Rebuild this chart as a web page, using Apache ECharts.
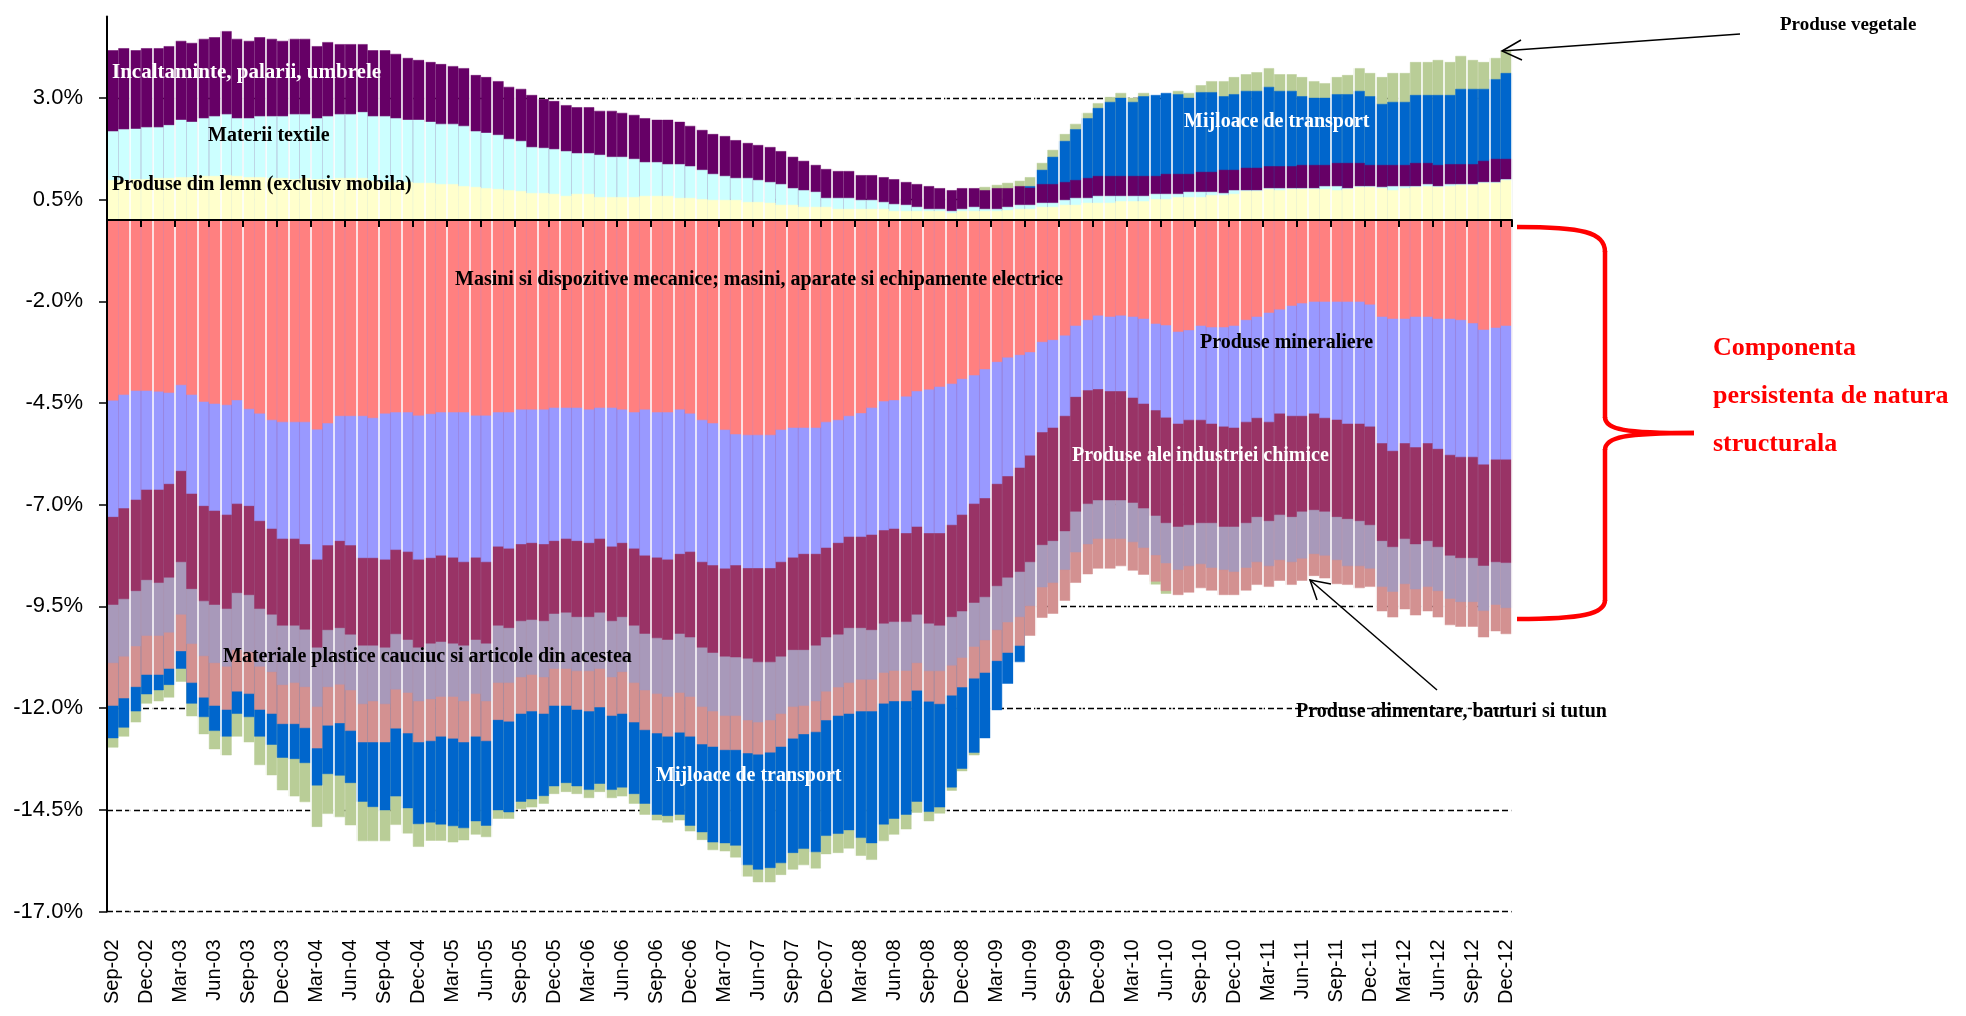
<!DOCTYPE html>
<html>
<head>
<meta charset="utf-8">
<title>Componenta persistenta de natura structurala</title>
<script src="https://cdn.jsdelivr.net/npm/echarts@6/dist/echarts.min.js"></script>
<style>
    html, body { margin: 0; padding: 0; background: #fff; }
    #chart { width: 1966px; height: 1016px; }
</style>
</head>
<body>
<div id="chart"></div>
<script>
// luni, Sep-02 .. Dec-12
var luni = [
    'Sep-02','Oct-02','Nov-02','Dec-02',
    'Jan-03','Feb-03','Mar-03','Apr-03','May-03','Jun-03','Jul-03','Aug-03','Sep-03','Oct-03','Nov-03','Dec-03',
    'Jan-04','Feb-04','Mar-04','Apr-04','May-04','Jun-04','Jul-04','Aug-04','Sep-04','Oct-04','Nov-04','Dec-04',
    'Jan-05','Feb-05','Mar-05','Apr-05','May-05','Jun-05','Jul-05','Aug-05','Sep-05','Oct-05','Nov-05','Dec-05',
    'Jan-06','Feb-06','Mar-06','Apr-06','May-06','Jun-06','Jul-06','Aug-06','Sep-06','Oct-06','Nov-06','Dec-06',
    'Jan-07','Feb-07','Mar-07','Apr-07','May-07','Jun-07','Jul-07','Aug-07','Sep-07','Oct-07','Nov-07','Dec-07',
    'Jan-08','Feb-08','Mar-08','Apr-08','May-08','Jun-08','Jul-08','Aug-08','Sep-08','Oct-08','Nov-08','Dec-08',
    'Jan-09','Feb-09','Mar-09','Apr-09','May-09','Jun-09','Jul-09','Aug-09','Sep-09','Oct-09','Nov-09','Dec-09',
    'Jan-10','Feb-10','Mar-10','Apr-10','May-10','Jun-10','Jul-10','Aug-10','Sep-10','Oct-10','Nov-10','Dec-10',
    'Jan-11','Feb-11','Mar-11','Apr-11','May-11','Jun-11','Jul-11','Aug-11','Sep-11','Oct-11','Nov-11','Dec-11',
    'Jan-12','Feb-12','Mar-12','Apr-12','May-12','Jun-12','Jul-12','Aug-12','Sep-12','Oct-12','Nov-12','Dec-12'
];

// nivelul cumulat (marginea exterioara) al fiecarui strat, in %, citit de pe grafic
// partea pozitiva
var lemn = [
    0.98,0.98,1.00,1.00,1.03,1.03,1.05,1.05,1.08,1.08,
    1.10,1.08,1.05,1.05,1.03,1.03,1.00,1.03,1.00,1.00,
    1.03,1.03,1.03,0.96,0.93,0.93,0.93,0.91,0.91,0.88,
    0.88,0.83,0.81,0.78,0.76,0.73,0.71,0.66,0.66,0.64,
    0.59,0.64,0.64,0.56,0.56,0.56,0.56,0.59,0.59,0.59,
    0.54,0.54,0.51,0.49,0.49,0.49,0.44,0.44,0.42,0.37,
    0.37,0.32,0.32,0.32,0.27,0.27,0.27,0.27,0.27,0.22,
    0.22,0.22,0.22,0.22,0.17,0.22,0.22,0.22,0.22,0.24,
    0.27,0.27,0.32,0.32,0.37,0.37,0.42,0.42,0.42,0.46,
    0.46,0.46,0.51,0.51,0.56,0.56,0.56,0.61,0.61,0.64,
    0.71,0.71,0.76,0.73,0.76,0.76,0.76,0.76,0.73,0.76,
    0.81,0.81,0.78,0.73,0.78,0.81,0.83,0.81,0.83,0.86,
    0.86,0.91,0.91,0.98
];
var textile = [
    2.18,2.23,2.24,2.28,2.28,2.33,2.46,2.41,2.50,2.55,
    2.60,2.50,2.50,2.55,2.55,2.55,2.60,2.60,2.50,2.55,
    2.60,2.60,2.65,2.55,2.55,2.50,2.46,2.46,2.41,2.36,
    2.36,2.31,2.18,2.14,2.09,1.99,1.94,1.79,1.77,1.74,
    1.69,1.64,1.64,1.60,1.55,1.55,1.50,1.42,1.42,1.37,
    1.37,1.32,1.23,1.13,1.08,1.03,1.03,0.98,0.93,0.88,
    0.78,0.73,0.69,0.54,0.54,0.54,0.49,0.49,0.44,0.39,
    0.37,0.32,0.27,0.27,0.22,0.27,0.32,0.27,0.27,0.32,
    0.37,0.37,0.42,0.42,0.49,0.54,0.54,0.59,0.59,0.59,
    0.59,0.59,0.64,0.64,0.64,0.69,0.69,0.69,0.66,0.73,
    0.73,0.73,0.78,0.78,0.78,0.78,0.78,0.83,0.83,0.78,
    0.83,0.83,0.81,0.83,0.83,0.83,0.88,0.83,0.88,0.88,
    0.88,0.93,0.93,1.00
];
var incaltaminte = [
    4.17,4.22,4.17,4.22,4.22,4.27,4.40,4.35,4.45,4.49,
    4.64,4.45,4.40,4.49,4.45,4.40,4.45,4.45,4.27,4.37,
    4.32,4.32,4.32,4.17,4.17,4.08,3.98,3.93,3.88,3.83,
    3.78,3.73,3.56,3.51,3.41,3.27,3.22,3.07,2.97,2.92,
    2.82,2.77,2.77,2.68,2.68,2.63,2.58,2.50,2.46,2.46,
    2.41,2.31,2.21,2.11,2.06,1.96,1.89,1.84,1.79,1.69,
    1.55,1.45,1.35,1.25,1.20,1.20,1.10,1.10,1.05,1.00,
    0.93,0.88,0.83,0.78,0.73,0.78,0.78,0.73,0.78,0.78,
    0.83,0.79,0.88,0.88,0.93,0.98,1.03,1.08,1.08,1.08,
    1.08,1.08,1.08,1.13,1.13,1.13,1.18,1.18,1.23,1.23,
    1.28,1.28,1.32,1.32,1.32,1.35,1.35,1.35,1.40,1.40,
    1.40,1.35,1.35,1.35,1.35,1.40,1.40,1.35,1.37,1.37,
    1.37,1.45,1.50,1.50
];
// cu semn schimbat in 2009
var transport = [
    -12.74,-12.48,-12.08,-11.66,-11.56,-11.43,-11.03,-11.89,-12.22,-12.56,
    -12.70,-12.14,-12.22,-12.70,-12.90,-13.22,-13.25,-13.35,-13.90,-13.62,
    -13.66,-13.84,-14.30,-14.43,-14.51,-14.17,-14.46,-14.85,-14.81,-14.86,
    -14.90,-14.95,-14.78,-14.89,-14.51,-14.56,-14.30,-14.24,-14.16,-13.92,
    -13.84,-13.92,-14.01,-13.86,-14.01,-13.95,-14.11,-14.35,-14.62,-14.65,
    -14.62,-14.89,-15.05,-15.30,-15.32,-15.38,-15.86,-15.97,-15.93,-15.81,
    -15.56,-15.46,-15.54,-15.14,-15.09,-15.00,-15.19,-15.32,-14.86,-14.72,
    -14.62,-14.30,-14.55,-14.44,-13.95,-13.49,-13.10,-12.74,-12.05,-11.40,
    -10.87,0.83,1.23,1.55,1.94,2.23,2.50,2.75,2.90,3.00,
    2.90,3.04,3.07,3.12,3.09,3.00,3.14,3.14,3.04,3.09,
    3.17,3.17,3.27,3.17,3.17,3.04,3.00,3.00,3.09,3.09,
    3.17,3.04,2.85,2.90,2.90,3.07,3.07,3.07,3.07,3.22,
    3.22,3.22,3.46,3.61
];
var vegetale = [
    -12.97,-12.70,-12.35,-11.89,-11.83,-11.74,-11.35,-12.20,-12.64,-13.01,
    -13.16,-12.70,-12.84,-13.40,-13.65,-14.02,-14.17,-14.31,-14.92,-14.60,
    -14.68,-14.88,-15.27,-15.27,-15.27,-14.87,-15.08,-15.41,-15.26,-15.26,
    -15.30,-15.25,-15.11,-15.17,-14.72,-14.72,-14.48,-14.44,-14.35,-14.11,
    -14.06,-14.11,-14.21,-14.06,-14.21,-14.17,-14.35,-14.62,-14.76,-14.81,
    -14.76,-15.03,-15.24,-15.49,-15.52,-15.67,-16.14,-16.28,-16.28,-16.10,
    -15.97,-15.86,-15.94,-15.59,-15.56,-15.45,-15.63,-15.73,-15.27,-15.11,
    -14.98,-14.57,-14.78,-14.59,-14.03,-13.55,-13.16,0.81,0.86,0.91,
    0.96,1.05,1.40,1.72,2.11,2.36,2.63,2.87,3.02,3.12,
    3.00,3.12,-8.96,-9.19,3.17,3.12,3.31,3.41,3.41,3.51,
    3.58,3.63,3.73,3.58,3.58,3.51,3.41,3.36,3.51,3.56,
    3.73,3.61,3.51,3.61,3.61,3.88,3.88,3.93,3.88,4.03,
    3.93,3.88,3.98,4.15
];
// partea negativa
var masini = [
    -4.44,-4.30,-4.20,-4.20,-4.22,-4.25,-4.06,-4.30,-4.47,-4.52,
    -4.55,-4.43,-4.65,-4.76,-4.92,-4.97,-4.97,-4.97,-5.15,-5.00,
    -4.82,-4.82,-4.82,-4.87,-4.76,-4.73,-4.73,-4.81,-4.77,-4.73,
    -4.73,-4.73,-4.81,-4.81,-4.73,-4.73,-4.66,-4.66,-4.66,-4.62,
    -4.62,-4.62,-4.66,-4.62,-4.62,-4.66,-4.73,-4.66,-4.73,-4.73,
    -4.66,-4.76,-4.92,-5.00,-5.16,-5.27,-5.29,-5.29,-5.29,-5.16,
    -5.11,-5.11,-5.11,-4.97,-4.92,-4.82,-4.75,-4.62,-4.46,-4.43,
    -4.34,-4.21,-4.17,-4.10,-4.03,-3.91,-3.82,-3.67,-3.49,-3.38,
    -3.32,-3.25,-3.00,-2.95,-2.84,-2.60,-2.46,-2.35,-2.38,-2.35,
    -2.38,-2.43,-2.55,-2.59,-2.75,-2.71,-2.60,-2.64,-2.64,-2.60,
    -2.46,-2.38,-2.28,-2.20,-2.11,-2.05,-2.01,-2.01,-2.01,-2.01,
    -2.01,-2.08,-2.38,-2.43,-2.43,-2.38,-2.38,-2.43,-2.43,-2.46,
    -2.54,-2.70,-2.65,-2.60
];
var minerale = [
    -7.30,-7.09,-6.88,-6.63,-6.63,-6.49,-6.17,-6.73,-7.03,-7.15,
    -7.25,-6.98,-7.03,-7.40,-7.59,-7.84,-7.84,-7.97,-8.35,-8.00,
    -7.89,-8.00,-8.31,-8.31,-8.35,-8.11,-8.16,-8.35,-8.31,-8.25,
    -8.30,-8.41,-8.30,-8.41,-8.03,-8.08,-7.97,-7.94,-7.97,-7.89,
    -7.84,-7.89,-7.94,-7.84,-8.03,-7.94,-8.08,-8.25,-8.30,-8.35,
    -8.21,-8.16,-8.41,-8.49,-8.57,-8.49,-8.56,-8.56,-8.56,-8.41,
    -8.30,-8.21,-8.21,-8.06,-7.94,-7.79,-7.79,-7.74,-7.63,-7.59,
    -7.70,-7.54,-7.70,-7.70,-7.50,-7.25,-6.98,-6.84,-6.49,-6.30,
    -6.09,-5.79,-5.22,-5.11,-4.82,-4.35,-4.19,-4.16,-4.21,-4.21,
    -4.37,-4.52,-4.68,-4.86,-5.01,-4.92,-4.92,-5.01,-5.08,-5.11,
    -4.97,-4.87,-4.97,-4.76,-4.82,-4.82,-4.76,-4.87,-4.91,-5.01,
    -5.01,-5.08,-5.49,-5.68,-5.49,-5.59,-5.49,-5.63,-5.78,-5.83,
    -5.83,-6.01,-5.89,-5.89
];
var chimice = [
    -9.46,-9.32,-9.12,-8.85,-8.92,-8.79,-8.41,-9.07,-9.37,-9.46,
    -9.56,-9.17,-9.22,-9.56,-9.70,-9.97,-9.97,-10.07,-10.51,-10.08,
    -10.03,-10.19,-10.46,-10.46,-10.51,-10.18,-10.32,-10.51,-10.41,-10.37,
    -10.41,-10.46,-10.32,-10.41,-9.97,-10.03,-9.86,-9.83,-9.86,-9.68,
    -9.65,-9.76,-9.76,-9.65,-9.86,-9.76,-9.97,-10.17,-10.28,-10.32,
    -10.17,-10.26,-10.51,-10.64,-10.73,-10.75,-10.78,-10.87,-10.87,-10.73,
    -10.57,-10.57,-10.46,-10.26,-10.19,-10.03,-10.03,-10.08,-9.92,-9.88,
    -9.88,-9.70,-9.92,-9.97,-9.76,-9.62,-9.41,-9.27,-9.00,-8.79,
    -8.65,-8.41,-7.99,-7.89,-7.65,-7.17,-6.98,-6.89,-6.89,-6.89,
    -6.95,-7.09,-7.27,-7.45,-7.54,-7.50,-7.45,-7.45,-7.54,-7.54,
    -7.45,-7.30,-7.40,-7.25,-7.30,-7.17,-7.13,-7.17,-7.30,-7.35,
    -7.40,-7.50,-7.89,-8.04,-7.84,-7.97,-7.89,-8.04,-8.25,-8.31,
    -8.31,-8.50,-8.41,-8.43
];
var plastice = [
    -10.89,-10.73,-10.48,-10.22,-10.22,-10.14,-9.70,-10.42,-10.72,-10.89,
    -10.98,-10.57,-10.62,-10.98,-11.11,-11.43,-11.38,-11.48,-11.97,-11.48,
    -11.42,-11.56,-11.90,-11.83,-11.90,-11.54,-11.62,-11.83,-11.78,-11.72,
    -11.72,-11.83,-11.65,-11.83,-11.38,-11.38,-11.24,-11.18,-11.24,-11.03,
    -11.03,-11.09,-11.09,-11.03,-11.24,-11.11,-11.38,-11.56,-11.65,-11.72,
    -11.62,-11.72,-11.97,-12.08,-12.19,-12.19,-12.30,-12.35,-12.30,-12.14,
    -11.97,-11.94,-11.83,-11.59,-11.49,-11.38,-11.30,-11.30,-11.13,-11.08,
    -11.08,-10.89,-11.09,-11.09,-10.95,-10.76,-10.49,-10.33,-10.08,-9.89,
    -9.76,-9.49,-9.03,-8.92,-8.60,-8.17,-7.97,-7.84,-7.84,-7.84,
    -7.92,-8.06,-8.24,-8.44,-8.60,-8.51,-8.46,-8.55,-8.60,-8.65,
    -8.55,-8.41,-8.51,-8.36,-8.41,-8.32,-8.21,-8.25,-8.36,-8.51,
    -8.51,-8.57,-9.02,-9.14,-8.95,-9.08,-9.02,-9.12,-9.31,-9.39,
    -9.39,-9.61,-9.46,-9.54
];
var alimentare = [
    -11.94,-11.76,-11.48,-11.18,-11.18,-11.03,-10.60,-11.38,-11.74,-11.94,
    -12.04,-11.59,-11.65,-12.04,-12.14,-12.39,-12.39,-12.49,-12.99,-12.43,
    -12.37,-12.56,-12.84,-12.84,-12.84,-12.50,-12.62,-12.84,-12.81,-12.70,
    -12.75,-12.84,-12.70,-12.81,-12.29,-12.33,-12.14,-12.08,-12.14,-11.94,
    -11.94,-12.04,-12.08,-11.98,-12.19,-12.14,-12.35,-12.54,-12.62,-12.70,
    -12.60,-12.70,-12.89,-12.95,-13.03,-13.03,-13.11,-13.14,-13.09,-12.95,
    -12.75,-12.64,-12.59,-12.30,-12.19,-12.14,-12.08,-12.08,-11.89,-11.83,
    -11.83,-11.57,-11.84,-11.90,-11.69,-11.49,-11.27,-11.13,-10.84,-10.64,
    -10.47,-10.22,-9.78,-9.68,-9.36,-8.92,-8.71,-8.57,-8.57,-8.51,
    -8.62,-8.72,-8.89,-9.12,-9.22,-9.16,-9.05,-9.11,-9.22,-9.22,
    -9.11,-8.97,-9.02,-8.87,-8.97,-8.87,-8.75,-8.81,-8.95,-8.97,
    -9.05,-9.02,-9.62,-9.77,-9.57,-9.72,-9.62,-9.77,-9.96,-10.00,
    -10.00,-10.26,-10.11,-10.18
];

// eticheta axei Y
var yTicks = [-17, -14.5, -12, -9.5, -7, -4.5, -2, 0.5, 3];

(function () {
    var chart = echarts.init(document.getElementById('chart'));

    // straturile, de la cel din spate la cel din fata (barele se suprapun)
    var straturi = [
        { name: 'Produse vegetale', data: vegetale, color: '#B9CD97' },
        { name: 'Mijloace de transport', data: transport, color: '#0066CC' },
        { name: 'Produse alimentare, bauturi si tutun', data: alimentare, color: '#D39191' },
        { name: 'Materiale plastice cauciuc si articole din acestea', data: plastice, color: '#A899BA' },
        { name: 'Produse ale industriei chimice', data: chimice, color: '#993366' },
        { name: 'Produse mineraliere', data: minerale, color: '#9999FF' },
        { name: 'Masini si dispozitive mecanice', data: masini, color: '#FF8080' },
        { name: 'Incaltaminte, palarii, umbrele', data: incaltaminte, color: '#660066' },
        { name: 'Materii textile', data: textile, color: '#CCFFFF' },
        { name: 'Produse din lemn (exclusiv mobila)', data: lemn, color: '#FFFFCC' }
    ];

    var series = straturi.map(function (s) {
        return {
            name: s.name,
            type: 'bar',
            xAxisIndex: 0,
            yAxisIndex: 0,
            data: s.data,
            barGap: '-100%',
            barCategoryGap: '0%',
            itemStyle: { color: s.color, borderColor: s.color, borderWidth: 0.5 },
            silent: true
        };
    });

    function label(text, x, y, color, size) {
        return {
            type: 'text', x: x, y: y, z: 100,
            style: {
                text: text, fill: color, fontSize: size || 20, fontWeight: 'bold',
                fontFamily: '"Liberation Serif", serif', align: 'left', verticalAlign: 'middle'
            }
        };
    }
    var red = '#FF0000';
    var brace = { stroke: red, lineWidth: 4.5, fill: 'none' };

    var option = {
        animation: false,
        backgroundColor: '#fff',
        textStyle: { fontFamily: '"Liberation Sans", Arial, sans-serif' },
        grid: { left: 107, right: 454, top: 16.5, bottom: 104.5, outerBoundsMode: 'none' },
        xAxis: [
            {   // etichetele lunilor, jos
                type: 'category', data: luni, position: 'bottom',
                axisLine: { show: false, onZero: false },
                axisTick: { show: false },
                splitLine: { show: false },
                axisLabel: { interval: 2, rotate: 90, margin: 28, fontSize: 20, color: '#000' }
            },
            {   // liniile albe dintre bare
                type: 'category', data: luni, position: 'bottom', z: 5,
                axisLine: { show: false, onZero: false },
                axisTick: { show: false },
                axisLabel: { show: false },
                splitLine: {
                    show: true,
                    interval: function (i) { return i > 0 && i % 2 === 0; },
                    lineStyle: { color: '#fff', width: 1.5 }
                }
            },
            {   // axa de la zero
                type: 'category', data: luni, position: 'bottom', z: 6,
                axisLine: { show: true, onZero: true, lineStyle: { color: '#000', width: 2 } },
                axisTick: { show: true, interval: 2, length: 7, lineStyle: { color: '#000', width: 2 } },
                axisLabel: { show: false },
                splitLine: { show: false }
            }
        ],
        yAxis: [
            {
                type: 'value', min: -17, max: 5, interval: 2.5, position: 'left',
                axisLine: { show: false },
                axisTick: { show: false },
                axisLabel: {
                    showMaxLabel: false, margin: 24, fontSize: 22, color: '#000',
                    formatter: function (v) { return v.toFixed(1) + '%'; }
                },
                splitLine: { show: true, showMaxLine: false, lineStyle: { color: '#000', width: 1.3, type: [6, 3] } }
            },
            {
                type: 'value', min: -17, max: 5, interval: 2.5, position: 'left', z: 6,
                axisLine: { show: true, onZero: false, lineStyle: { color: '#000', width: 2 } },
                axisTick: { show: true, length: 8, customValues: yTicks, lineStyle: { color: '#000', width: 1.5 } },
                axisLabel: { show: false },
                splitLine: { show: false }
            }
        ],
        series: series,
        graphic: [
            label('Incaltaminte, palarii, umbrele', 112, 73, '#fff', 21),
            label('Materii textile', 208, 136, '#000'),
            label('Produse din lemn (exclusiv mobila)', 112, 185, '#000'),
            label('Mijloace de transport', 1184, 122, '#fff'),
            label('Masini si dispozitive mecanice; masini, aparate si echipamente electrice', 455, 280, '#000'),
            label('Produse mineraliere', 1200, 343, '#000'),
            label('Produse ale industriei chimice', 1072, 456, '#fff'),
            label('Materiale plastice cauciuc si articole din acestea', 223, 657, '#000'),
            label('Mijloace de transport', 656, 776, '#fff'),
            label('Produse alimentare, bauturi si tutun', 1296, 712, '#000'),
            label('Produse vegetale', 1780, 25, '#000', 19),
            label('Componenta', 1713, 348, red, 26),
            label('persistenta de natura', 1713, 396, red, 26),
            label('structurala', 1713, 444, red, 26),

            // sageti
            { type: 'line', z: 100, shape: { x1: 1740, y1: 34, x2: 1502, y2: 51 }, style: { stroke: '#000', lineWidth: 1.5 } },
            { type: 'polyline', z: 100, shape: { points: [[1521, 40], [1502, 51], [1522, 60]] }, style: { stroke: '#000', lineWidth: 1.5, fill: 'none' } },
            { type: 'line', z: 100, shape: { x1: 1437, y1: 690, x2: 1310, y2: 580 }, style: { stroke: '#000', lineWidth: 1.5 } },
            { type: 'polyline', z: 100, shape: { points: [[1331, 584], [1310, 580], [1317, 600]] }, style: { stroke: '#000', lineWidth: 1.5, fill: 'none' } },

            // acolada rosie
            { type: 'bezierCurve', z: 100, shape: { x1: 1517, y1: 227, cpx1: 1582, cpy1: 227, cpx2: 1605, cpy2: 232, x2: 1605, y2: 252 }, style: brace },
            { type: 'line', z: 100, shape: { x1: 1605, y1: 251, x2: 1605, y2: 418 }, style: brace },
            { type: 'bezierCurve', z: 100, shape: { x1: 1605, y1: 417, cpx1: 1605, cpy1: 430, cpx2: 1625, cpy2: 433, x2: 1694, y2: 433 }, style: brace },
            { type: 'bezierCurve', z: 100, shape: { x1: 1694, y1: 433, cpx1: 1625, cpy1: 433, cpx2: 1605, cpy2: 437, x2: 1605, y2: 450 }, style: brace },
            { type: 'line', z: 100, shape: { x1: 1605, y1: 449, x2: 1605, y2: 601 }, style: brace },
            { type: 'bezierCurve', z: 100, shape: { x1: 1605, y1: 600, cpx1: 1605, cpy1: 614, cpx2: 1582, cpy2: 619, x2: 1517, y2: 619 }, style: brace }
        ]
    };

    chart.setOption(option);
})();
</script>
</body>
</html>
